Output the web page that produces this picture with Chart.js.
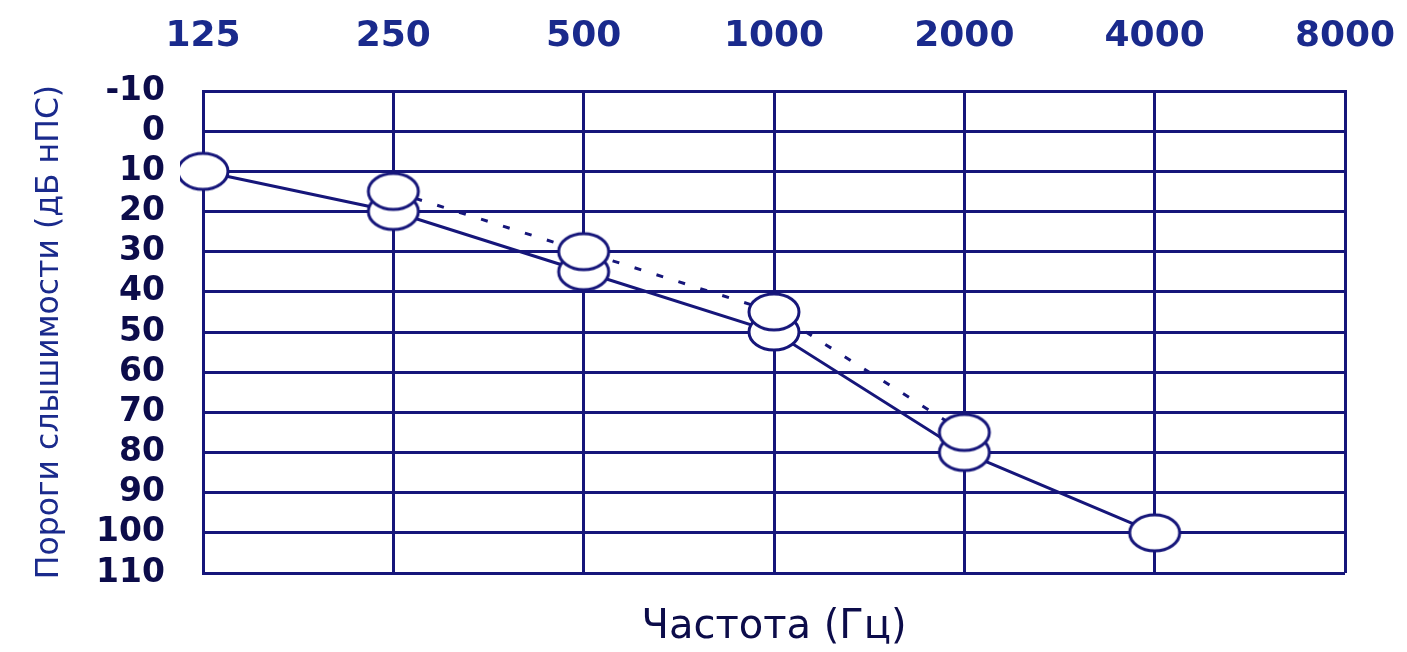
<!DOCTYPE html>
<html>
<head>
<meta charset="utf-8">
<script src="https://cdn.jsdelivr.net/npm/chart.js@4/dist/chart.umd.min.js"></script>
<style>
  html, body { margin: 0; padding: 0; background: #ffffff; }
  #wrap { width: 1407px; height: 652px; }
</style>
</head>
<body>
<div id="wrap"><canvas id="c" width="1407" height="652"></canvas></div>
<script>
// ---- data ----
const frequencies = ['125', '250', '500', '1000', '2000', '4000', '8000'];
const solidThresholds = [10, 20, 35, 50, 80, 100, null];
const dashedThresholds = [null, 15, 30, 45, 75, null, null];
const yMin = -10;
const yMax = 110;
const yStep = 10;
const xAxisTitle = 'Частота (Гц)';
const yAxisTitle = 'Пороги слышимости (дБ нПС)';

// ---- styles ----
const navy = '#16167a';
const darkNavy = '#0c0c4a';

function makeEllipse(w, h, lw, color) {
  const cv = document.createElement('canvas');
  cv.width = w + lw * 2;
  cv.height = h + lw * 2;
  const g = cv.getContext('2d');
  g.beginPath();
  g.ellipse(cv.width / 2, cv.height / 2, w / 2, h / 2, 0, 0, Math.PI * 2);
  g.fillStyle = '#ffffff';
  g.fill();
  g.lineWidth = lw;
  g.strokeStyle = color;
  g.stroke();
  return cv;
}
const ellipse = makeEllipse(50, 36, 3, navy);

new Chart(document.getElementById('c'), {
  type: 'line',
  data: {
    labels: frequencies,
    datasets: [
      {
        label: 'dashed',
        data: dashedThresholds,
        borderColor: navy,
        borderWidth: 3,
        borderDash: [7, 16],
        pointStyle: ellipse,
        pointRadius: 20,
        pointHoverRadius: 20,
        order: 0,
        spanGaps: false
      },
      {
        label: 'solid',
        data: solidThresholds,
        borderColor: navy,
        borderWidth: 3,
        pointStyle: ellipse,
        pointRadius: 20,
        pointHoverRadius: 20,
        order: 1,
        spanGaps: false
      }
    ]
  },
  options: {
    responsive: false,
    animation: false,
    events: [],
    layout: { padding: { left: 0, right: 62, top: 0, bottom: 0 } },
    plugins: {
      legend: { display: false },
      tooltip: { enabled: false },
      title: { display: false }
    },
    scales: {
      x: {
        type: 'category',
        position: 'top',
        offset: false,
        afterFit: (s) => { s.height = 91; s.paddingLeft = 0; s.paddingRight = 0; },
        grid: { color: navy, lineWidth: 3, drawTicks: false },
        border: { color: navy, width: 3 },
        ticks: {
          color: '#1a2a8c',
          padding: 33,
          font: { family: 'DejaVu Sans', size: 36, weight: 'bold' },
          maxRotation: 0,
          autoSkip: false
        }
      },
      x2: {
        type: 'category',
        position: 'bottom',
        offset: false,
        afterFit: (s) => { s.height = 79; s.paddingLeft = 0; s.paddingRight = 0; },
        grid: { display: false, drawTicks: false },
        border: { display: false },
        ticks: { display: false },
        title: {
          display: true,
          text: xAxisTitle,
          color: darkNavy,
          font: { family: 'DejaVu Sans', size: 40, weight: 'normal' },
          padding: { top: 0, bottom: 0 }
        }
      },
      y: {
        min: yMin,
        max: yMax,
        reverse: true,
        afterFit: (s) => { s.width = 203; s.paddingTop = 0; s.paddingBottom = 0; },
        grid: { color: navy, lineWidth: 3, drawTicks: false },
        border: { color: navy, width: 3 },
        ticks: {
          stepSize: yStep,
          autoSkip: false,
          color: darkNavy,
          padding: 38,
          font: { family: 'DejaVu Sans', size: 33, weight: 'bold' }
        },
        title: {
          display: true,
          text: yAxisTitle,
          color: '#1a2a8c',
          font: { family: 'DejaVu Sans', size: 31.5, weight: 'normal' },
          padding: { top: 31, bottom: 0 }
        }
      }
    }
  }
});
</script>
</body>
</html>
